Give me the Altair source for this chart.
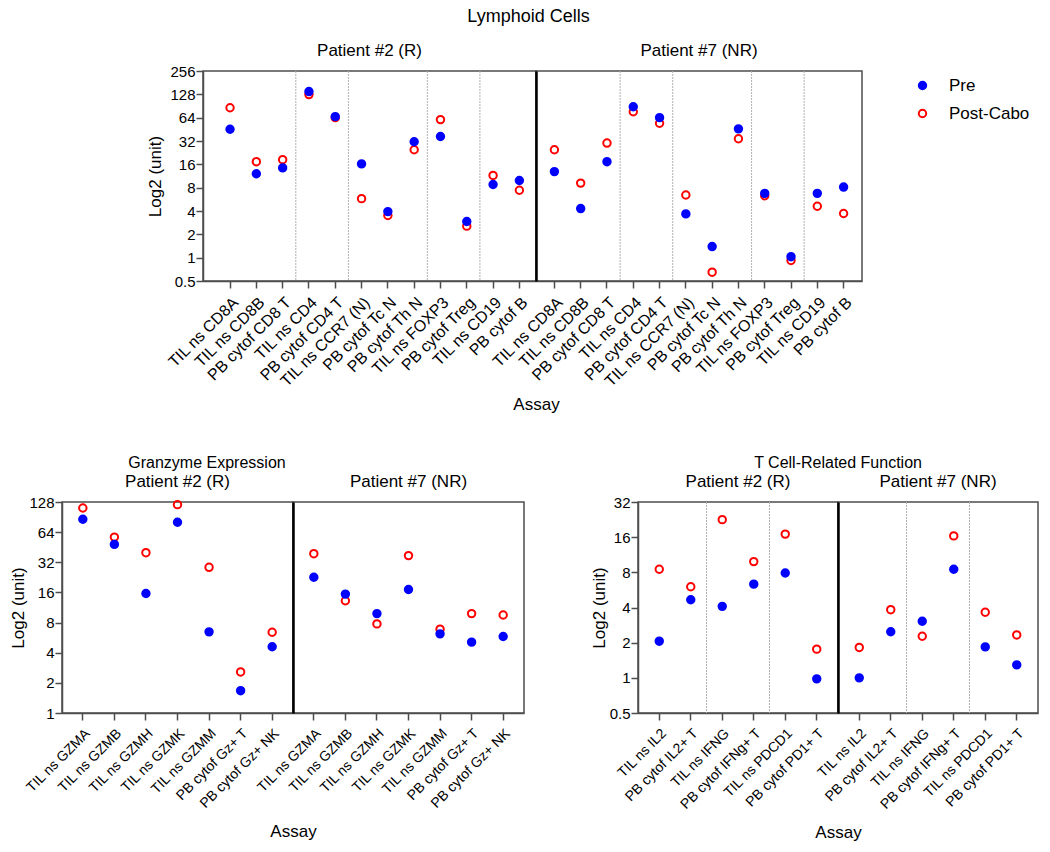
import altair as alt
import pandas as pd

FONT = "Liberation Sans"
AX = "#4d4d4d"
PRE_COLOR = "#0000ff"
POST_COLOR = "#ff0000"
TIMES = ["Pre", "Post-Cabo"]

# ---------------- Lymphoid Cells ----------------
lym_assays = ["TIL ns CD8A", "TIL ns CD8B", "PB cytof CD8 T", "TIL ns CD4", "PB cytof CD4 T",
              "TIL ns CCR7 (N)", "PB cytof Tc N", "PB cytof Th N", "TIL ns FOXP3", "PB cytof Treg",
              "TIL ns CD19", "PB cytof B"]
lym_group_starts = ["TIL ns CD4", "TIL ns CCR7 (N)", "TIL ns FOXP3", "TIL ns CD19"]
lym_p2_pre = [45.4, 12.1, 14.4, 139, 66, 16.2, 3.93, 31.3, 36.6, 2.93, 8.8, 9.9]
lym_p2_post = [86, 17.3, 18.4, 127, 64, 5.77, 3.5, 24.7, 60.4, 2.55, 11.5, 7.4]
lym_p7_pre = [12.9, 4.3, 17.3, 88.6, 64, 3.67, 1.39, 45.9, 6.76, 1.03, 6.76, 8.14]
lym_p7_post = [24.7, 9.16, 30.1, 76.4, 54.2, 6.43, 0.65, 34.2, 6.3, 0.92, 4.6, 3.71]
lym_ticks = [0.5, 1, 2, 4, 8, 16, 32, 64, 128, 256]

# ---------------- Granzyme Expression ----------------
gz_assays = ["TIL ns GZMA", "TIL ns GZMB", "TIL ns GZMH", "TIL ns GZMK", "TIL ns GZMM",
             "PB cytof Gz+ T", "PB cytof Gz+ NK"]
gz_group_starts = []
gz_p2_pre = [86.1, 48.3, 15.6, 80.4, 6.46, 1.67, 4.59]
gz_p2_post = [111.6, 57.1, 39.9, 120.4, 28.5, 2.57, 6.41]
gz_p7_pre = [22.7, 15.4, 9.83, 17.1, 6.17, 5.1, 5.81]
gz_p7_post = [39.0, 13.2, 7.76, 37.3, 6.87, 9.83, 9.53]
gz_ticks = [1, 2, 4, 8, 16, 32, 64, 128]

# ---------------- T Cell-Related Function ----------------
tc_assays = ["TIL ns IL2", "PB cytof IL2+ T", "TIL ns IFNG", "PB cytof IFNg+ T",
             "TIL ns PDCD1", "PB cytof PD1+ T"]
tc_group_starts = ["TIL ns IFNG", "TIL ns PDCD1"]
tc_p2_pre = [2.06, 4.66, 4.09, 6.34, 7.9, 0.98]
tc_p2_post = [8.5, 6.02, 22.6, 9.88, 17.0, 1.76]
tc_p7_pre = [1.0, 2.48, 3.05, 8.5, 1.84, 1.29]
tc_p7_post = [1.82, 3.83, 2.27, 16.4, 3.64, 2.33]
tc_ticks = [0.5, 1, 2, 4, 8, 16, 32]

patients = ["Patient #2 (R)", "Patient #7 (NR)"]


def make_legend(show):
    if not show:
        return None
    return alt.Legend(orient="right", offset=45, padding=6, title=None,
                      labelFontSize=17, labelFont=FONT, symbolType="circle", symbolSize=55,
                      symbolStrokeWidth=2, labelOffset=18, rowPadding=10)


def make_df(assays, pre, post):
    rows = []
    for a, v in zip(assays, post):
        rows.append({"assay": a, "time": "Post-Cabo", "value": v})
    for a, v in zip(assays, pre):
        rows.append({"assay": a, "time": "Pre", "value": v})
    return pd.DataFrame(rows)


def panel(assays, pre, post, starts, ydom, yticks, width, height, po, align, header, first,
          show_legend, xtitle_pad, xlabel_size, ytitle_pad):
    df = make_df(assays, pre, post)
    xscale = alt.Scale(type="band", domain=assays, paddingInner=0, paddingOuter=po, align=align)
    yscale = alt.Scale(type="log", base=2, domain=ydom, nice=False)
    if first:
        xaxis = alt.Axis(labelAngle=-45, title="Assay", titleX=width, titlePadding=xtitle_pad,
                         labelPadding=6, labelFontSize=xlabel_size)
        yaxis = alt.Axis(values=yticks, format="~g", title="Log2 (unit)",
                         titlePadding=ytitle_pad, labelPadding=1)
    else:
        xaxis = alt.Axis(labelAngle=-45, title=None, labelPadding=6, labelFontSize=xlabel_size)
        yaxis = alt.Axis(values=yticks, format="~g", labelOpacity=0, ticks=False, title=None,
                         domainColor="black", domainWidth=2.5, labelPadding=1)
    leg = make_legend(show_legend)
    fill_kw = dict(scale=alt.Scale(domain=TIMES, range=[PRE_COLOR, "transparent"]))
    stroke_kw = dict(scale=alt.Scale(domain=TIMES, range=[PRE_COLOR, POST_COLOR]))
    if leg is None:
        fill_kw["legend"] = None
        stroke_kw["legend"] = None
    else:
        fill_kw["legend"] = leg
        stroke_kw["legend"] = leg
    pts = alt.Chart(df).mark_point(shape="circle", size=55, strokeWidth=2, opacity=1).encode(
        x=alt.X("assay:N", scale=xscale, axis=xaxis, sort=assays),
        y=alt.Y("value:Q", scale=yscale, axis=yaxis),
        fill=alt.Fill("time:N", **fill_kw),
        stroke=alt.Stroke("time:N", **stroke_kw),
    )
    layers = []
    if starts:
        sep = alt.Chart(pd.DataFrame({"assay": starts})).mark_rule(
            color="#b0b0b0", strokeWidth=1, strokeDash=[2, 1]
        ).encode(x=alt.X("assay:N", scale=xscale, axis=xaxis, sort=assays, bandPosition=0))
        layers.append(sep)
    layers.append(pts)
    return alt.layer(*layers).properties(
        width=width, height=height,
        title=alt.TitleParams(header, fontSize=17, fontWeight="normal", font=FONT, offset=4,
                              frame="group", anchor="middle"),
    )


def figure(title, assays, d2pre, d2post, d7pre, d7post, starts, ydom, yticks,
           w1, w2, height, po1, al1, po2, al2, tsize, toffset, dx, xtitle_pad,
           xlabel_size, ytitle_pad, show_legend=False):
    p1 = panel(assays, d2pre, d2post, starts, ydom, yticks, w1, height, po1, al1, patients[0],
               True, show_legend, xtitle_pad, xlabel_size, ytitle_pad)
    p2 = panel(assays, d7pre, d7post, starts, ydom, yticks, w2, height, po2, al2, patients[1],
               False, show_legend, xtitle_pad, xlabel_size, ytitle_pad)
    return alt.hconcat(p1, p2, spacing=0, bounds="flush",
                       title=alt.TitleParams(title, fontSize=tsize, fontWeight="normal",
                                             font=FONT, offset=toffset, dx=dx,
                                             anchor="middle"))


top = figure("Lymphoid Cells", lym_assays, lym_p2_pre, lym_p2_post, lym_p7_pre, lym_p7_post,
             lym_group_starts, [0.5, 256], lym_ticks, 333, 326, 210, 0.33, 0.8, 0.2, 0.5,
             18, 15, 24, 7, 16, 5, show_legend=True)
bl = figure("Granzyme Expression", gz_assays, gz_p2_pre, gz_p2_post, gz_p7_pre, gz_p7_post,
            gz_group_starts, [1, 128], gz_ticks, 231, 231, 211, 0.16, 0.5, 0.16, 0.5,
            16, 1, -60, 13, 14, 1)
br = figure("T Cell-Related Function", tc_assays, tc_p2_pre, tc_p2_post, tc_p7_pre, tc_p7_post,
            tc_group_starts, [0.5, 32], tc_ticks, 200, 200, 211, 0.175, 0.5, 0.175, 0.5,
            16, 1, 24, 13, 14, 1)


def spacer(w):
    return alt.Chart(pd.DataFrame({"a": []})).mark_point(opacity=0).properties(
        width=w, height=1, view=alt.ViewBackground(strokeOpacity=0))


top_row = alt.hconcat(spacer(118), top, spacing=20)
bottom_row = alt.hconcat(spacer(1), alt.hconcat(bl, br, spacing=64), spacing=0)

chart = alt.vconcat(top_row, bottom_row, spacing=41).properties(padding=0).resolve_legend(
    fill="independent", stroke="independent"
).configure_view(
    stroke=AX, strokeWidth=1.5
).configure_axis(
    labelFont=FONT, titleFont=FONT, labelColor="black", titleColor="black",
    titleFontWeight="normal", labelFontSize=15, titleFontSize=17,
    domainColor=AX, tickColor=AX, domainWidth=1.5, tickWidth=1.5, tickSize=7, grid=False
).configure_legend(labelColor="black").configure_title(color="black")

chart.save("out.html", embed_options={"renderer": "svg", "actions": False})
